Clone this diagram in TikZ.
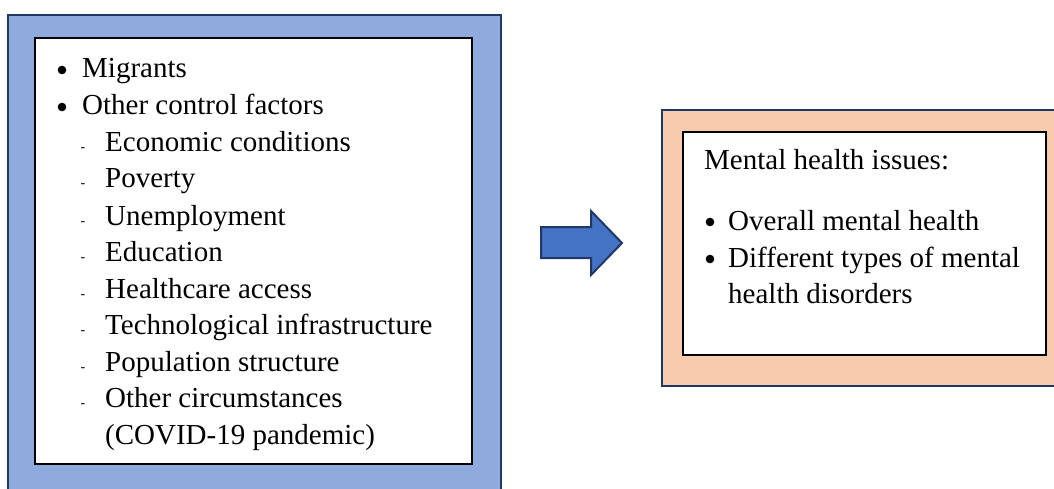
\documentclass[tikz,border=0pt]{standalone}
\usepackage{fontspec}
\setmainfont{Liberation Serif}
\usepackage{xcolor}
\usetikzlibrary{positioning}

\definecolor{causeblue}{HTML}{8FAADC}
\definecolor{edgenavy}{HTML}{1F3864}
\definecolor{arrowblue}{HTML}{4472C4}
\definecolor{issuepeach}{HTML}{F8CBAD}

\newcommand{\dsh}{\makebox[24.5pt][l]{\fontsize{14}{14}\selectfont -}}

\begin{document}
\begin{tikzpicture}[x=1pt,y=-1pt,
                    outerbox/.style={draw=edgenavy,line width=2pt},
                    innerbox/.style={draw=black,line width=2pt,fill=white},
                    entry/.style={anchor=base west,inner sep=0pt,
                                  font=\fontsize{29}{36}\selectfont}]
        \clip (0,0) rectangle (1054,489);
        % left box: migrants and control factors
        \draw[outerbox,fill=causeblue] (8,15) rectangle (501,510);
        \draw[innerbox] (35,38) rectangle (472,464);
        \node[entry] (mig) at (82,78) {Migrants};
        \node[entry] (ctrl) at (82,115) {Other control factors};
        \node[entry] (econ) at (80.5,152) {\dsh Economic conditions};
        \node[entry] (pov) at (80.5,188) {\dsh Poverty};
        \node[entry] (unemp) at (80.5,225) {\dsh Unemployment};
        \node[entry] (edu) at (80.5,261) {\dsh Education};
        \node[entry] (care) at (80.5,298) {\dsh Healthcare access};
        \node[entry] (tech) at (80.5,334) {\dsh Technological infrastructure};
        \node[entry] (pop) at (80.5,371) {\dsh Population structure};
        \node[entry] (circ) at (80.5,407) {\dsh Other circumstances};
        \node[entry] (covid) at (105,444) {(COVID-19 pandemic)};
        \foreach \y in {78,115}
                \fill (62,\y-8) circle (4.3);
        % block arrow
        \draw[line width=2pt,draw=edgenavy,fill=arrowblue,line join=miter]
                (541,227) -- (591,227) -- (591,211) -- (622,243)
                -- (591,275) -- (591,258) -- (541,258) -- cycle;
        % right box: mental health issues
        \draw[outerbox,fill=issuepeach] (662,110) rectangle (1070,386);
        \draw[innerbox] (683,132) rectangle (1046,355);
        \node[entry] (issues) at (704,170) {Mental health issues:};
        \node[entry] (overall) at (728,230) {Overall mental health};
        \node[entry] (types) at (728,267) {Different types of mental};
        \node[entry] (disord) at (728,303) {health disorders};
        \foreach \y in {230,267}
                \fill (710,\y-8) circle (4.3);
\end{tikzpicture}
\end{document}
